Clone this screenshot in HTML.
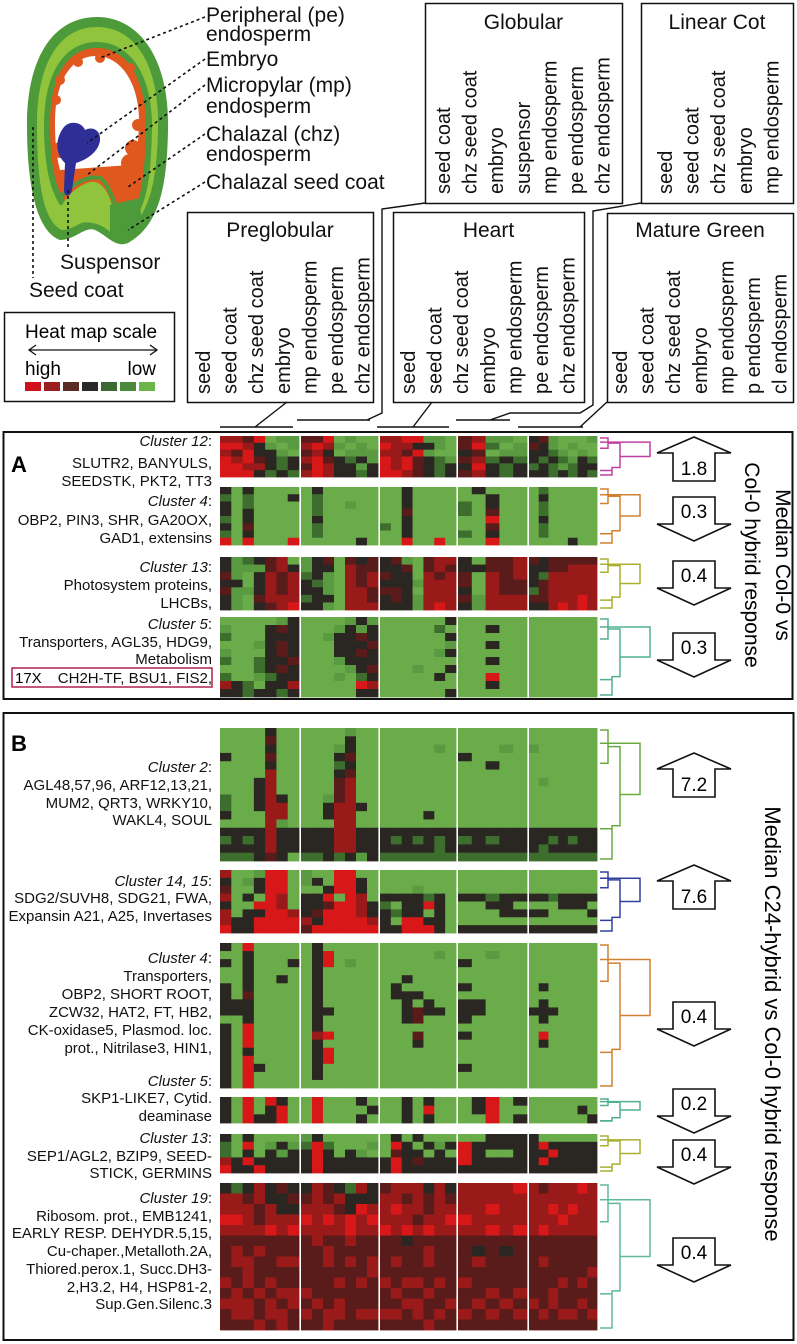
<!DOCTYPE html>
<html><head><meta charset="utf-8"><style>
html,body{margin:0;padding:0;background:#fff;}
svg{display:block;font-family:"Liberation Sans",Arial,sans-serif;}
</style></head><body>
<svg id="fig" width="797" height="1344" viewBox="0 0 797 1344" xmlns="http://www.w3.org/2000/svg">
<!-- Seed diagram -->
<g>
  <path d="M97,17 C140,17 170,60 168,130 C167,185 160,225 128,243 C115,248 108,236 95,230 C85,226 75,240 60,240 C38,232 27,190 27,125 C27,55 55,17 97,17 Z" fill="#4c9a3a"/>
  <path d="M97,27 C135,27 160,65 158,130 C157,180 150,215 125,233 C112,238 106,225 95,221 C84,218 74,230 62,230 C44,222 37,185 37,125 C37,62 60,27 97,27 Z" fill="#8fc43c"/>
  <path d="M97,42 C130,42 153,75 152,130 C151,170 148,195 140,210 L60,205 C50,190 44,165 44,125 C44,72 65,42 97,42 Z" fill="#4c9a3a"/>
  <path d="M97,48 C126,48 147,78 146,130 C145,168 142,193 136,205 L64,200 C55,185 50,162 50,125 C50,75 68,48 97,48 Z" fill="#e0581e"/>
  <path d="M96,56 C120,56 140,82 139,125 C138,148 136,160 130,165 L60,170 C56,155 55,140 55,122 C55,80 72,56 96,56 Z" fill="#fff"/>
  <circle cx="100" cy="58" r="5" fill="#e0581e"/><circle cx="78" cy="62" r="5" fill="#e0581e"/><circle cx="60" cy="80" r="5" fill="#e0581e"/><circle cx="130" cy="68" r="5" fill="#e0581e"/>
  <circle cx="56" cy="100" r="5" fill="#e0581e"/><circle cx="138" cy="125" r="6" fill="#e0581e"/><circle cx="133" cy="148" r="8" fill="#e0581e"/><circle cx="130" cy="163" r="9" fill="#e0581e"/><circle cx="60" cy="150" r="8" fill="#e0581e"/>
  <path d="M62,205 C70,192 80,185 90,182 C100,180 108,190 112,205 C114,218 118,220 125,215 L130,205 L138,210 L140,230 C130,240 118,240 110,232 C100,222 85,220 70,225 Z" fill="#8fc43c"/>
  <path d="M60,198 C72,183 90,175 100,178 C108,182 112,200 118,208" fill="none" stroke="#4c9a3a" stroke-width="4"/>
  <path d="M110,205 L140,198 L142,232 C132,242 118,242 110,235 Z" fill="#4c9a3a"/>
  <path d="M64,127 C70,120 82,122 85,130 C92,126 101,130 100,140 C99,152 86,160 76,163 L72,190 C70,198 64,197 64,190 L65,163 C56,155 54,140 64,127 Z" fill="#2e2e96"/>
  <g fill="none" stroke="#111" stroke-width="1.6" stroke-dasharray="3,3">
    <line x1="205" y1="17" x2="100" y2="58"/>
    <line x1="205" y1="59" x2="87" y2="143"/>
    <line x1="205" y1="85" x2="87" y2="175"/>
    <line x1="205" y1="134" x2="128" y2="187"/>
    <line x1="205" y1="182" x2="128" y2="230"/>
    <line x1="68" y1="190" x2="68" y2="250"/>
    <line x1="33" y1="127" x2="33" y2="278"/>
  </g>
  <g font-size="21" fill="#111">
    <text x="206" y="22">Peripheral (pe)</text>
    <text x="206" y="41">endosperm</text>
    <text x="206" y="66">Embryo</text>
    <text x="206" y="92">Micropylar (mp)</text>
    <text x="206" y="113">endosperm</text>
    <text x="206" y="141">Chalazal (chz)</text>
    <text x="206" y="161">endosperm</text>
    <text x="206" y="189">Chalazal seed coat</text>
    <text x="60" y="269">Suspensor</text>
    <text x="29" y="297">Seed coat</text>
  </g>
</g>
<!-- Heat map scale legend -->
<g>
  <rect x="4.5" y="312.5" width="170" height="89" fill="none" stroke="#111" stroke-width="1.5"/>
  <text x="25" y="338" font-size="19">Heat map scale</text>
  <line x1="30" y1="350" x2="156" y2="350" stroke="#111" stroke-width="1.3"/>
  <path d="M36,345 L29,350 L36,355 M150,345 L157,350 L150,355" fill="none" stroke="#111" stroke-width="1.3"/>
  <text x="25" y="375" font-size="19">high</text>
  <text x="156" y="375" font-size="19" text-anchor="end">low</text>
  <rect x="25" y="382" width="16" height="9" fill="#d0101a"/><rect x="44" y="382" width="16" height="9" fill="#9a1e1e"/><rect x="63" y="382" width="16" height="9" fill="#5a2a24"/><rect x="82" y="382" width="16" height="9" fill="#2a2a2a"/><rect x="101" y="382" width="16" height="9" fill="#3a6a30"/><rect x="120" y="382" width="16" height="9" fill="#4a8a3a"/><rect x="139" y="382" width="16" height="9" fill="#6cb54a"/>
</g>
<g id="stageBoxes" font-size="20" fill="#111"></g>
<g id="connectors" fill="none" stroke="#111" stroke-width="1.4"></g>
<!-- Panels -->
<rect x="3.5" y="432" width="789" height="267" fill="none" stroke="#111" stroke-width="2"/>
<rect x="3.5" y="713" width="790" height="627" fill="none" stroke="#111" stroke-width="2"/>
<text x="11" y="472" font-size="22" font-weight="bold">A</text>
<text x="11" y="751" font-size="22" font-weight="bold">B</text>
<g id="heat"></g>
<g id="dendro" fill="none" stroke-width="1.5"></g>
<g id="labels" font-size="15" fill="#111" text-anchor="end"></g>
<g id="arrows"></g>
<rect x="12" y="668" width="200" height="19" fill="none" stroke="#b0204a" stroke-width="1.5"/>
<text x="15" y="683" font-size="15">17X</text>
<text transform="translate(776,565) rotate(90)" font-size="21" text-anchor="middle">Median Col-0 vs</text>
<text transform="translate(745,565) rotate(90)" font-size="21" text-anchor="middle">Col-0 hybrid response</text>
<text transform="translate(765,1024) rotate(90)" font-size="22" text-anchor="middle">Median C24-hybrid vs Col-0 hybrid response</text>
</svg>
<script>
// ---- data ----
const stageNames = ["Preglobular","Globular","Heart","Linear Cot","Mature Green"];
const preglobularCols = ["seed","seed coat","chz seed coat","embryo","mp endosperm","pe endosperm","chz endosperm"];
const globularCols = ["seed coat","chz seed coat","embryo","suspensor","mp endosperm","pe endosperm","chz endosperm"];
const heartCols = ["seed","seed coat","chz seed coat","embryo","mp endosperm","pe endosperm","chz endosperm"];
const linearCotCols = ["seed","seed coat","chz seed coat","embryo","mp endosperm"];
const matureGreenCols = ["seed","seed coat","chz seed coat","embryo","mp endosperm","p endosperm","cl endosperm"];
const levelColors = ["#d81818","#9a1a1a","#5a1c1a","#2a2622","#3d6e2e","#5a9a40","#6aab4a"];
const responseValues = ["1.8","0.3","0.4","0.3","7.2","7.6","0.4","0.2","0.4","0.4"];
const responseDirections = ["up","down","down","down","up","up","down","down","down","down"];
const a12Rows = ["1120655|2206566|1100556|21556|3256665","0013565|1015656|0113356|20465|2356566","1203356|2136555|1120566|32655|3345656","0102343|1023435|0102345|21434|3434534","0011343|2013353|0102343|30343|4345433","0003434|1013343|0012343|21343|3343434"];
const a4Rows = ["3636666|6366666|6636666|63666|6466666","4646663|6466666|6636666|66366|6366666","3646666|6466566|6636666|46366|6466666","3636666|6466666|6626666|46266|6466666","4636666|6366666|6636666|66066|6366666","3626666|6466666|4636666|66266|6466666","4636666|6466666|6636666|46366|6466666","0606660|6666636|6606606|66066|6666366"];
const a13Rows = ["3543216|5326232|3256211|36221|2322222","3555213|5336122|3326212|33221|3322111","2563121|4356121|2336121|26121|3411111","3363121|3456121|3335111|26122|3211111","2553121|3356112|2236111|36122|4211111","3562111|4336112|3235111|25111|2211101","3563210|3356111|3335101|35111|3310101"];
const a5Rows = ["6666653|6666535|6666663|66666|6666666","5666323|6665353|6666646|66366|6666666","4666333|6653323|6666663|66666|6666666","6665323|6663332|6666665|66366|6666666","5666323|6663323|6666653|66666|6666666","4664332|6665333|6666666|66366|6666666","6664323|6666532|6665663|66666|6666666","4665433|6665643|6666636|66066|6666666","1346331|6666601|6666666|66366|6666666","3343343|6666633|6666663|66666|6666666"];
const b2Rows = ["6666366|6666566|6666666|66666|6666666","6666266|6666366|6666666|66666|6666666","6666366|6665366|6666656|66656|5666666","3666266|6663266|6666666|36666|6666666","6666366|6664366|6666666|66366|6666666","6666166|6663266|6666666|66666|6666666","6663166|6662166|6666666|66666|6566666","6663166|6662166|6666666|66666|6666666","4663136|6652166|6666666|66666|6666666","4663116|6631136|6666666|66666|6666666","3666116|6631166|6666366|66666|6666666","6666156|6661166|6666666|66666|6666666","3333133|3331133|3333333|33333|3333333","4343133|3331133|3434343|43433|3343433","3333133|3331133|3333343|33333|3433333","4443236|4434353|4444444|44444|4444444"];
const b14Rows = ["1665006|5660066|6666666|66666|6666666","3653006|5360036|6666666|66666|6666666","2663006|6630036|6665666|66666|6666666","1636016|3306016|3333436|33433|3343333","3660016|3320013|4633036|66336|6663336","1633001|3200013|3433636|66633|3366663","1330000|1300001|3600336|66666|6666666","0330000|2000000|3300036|33333|3333333"];
const b4Rows = ["3606666|6366666|6666666|66666|6666666","6636666|6306666|6666656|66566|6666666","3636663|6306566|6666666|36666|6666666","6636666|6366666|6666666|66666|6666666","6636636|6366666|6636666|66666|6666666","3636666|6366666|6366666|36666|6366666","3626666|6366666|6333666|66666|6666666","3336666|6366666|6636366|33666|6366666","3336666|6336666|6632336|33666|3336666","6636666|6366666|6632666|36666|6366666","3606666|6366666|6666666|66666|6666666","3606666|6106666|6662666|36666|6066666","3606666|6366666|6663666|66666|6366666","3636666|6306666|6666666|66666|6666666","3606666|6306666|6666666|66666|6666666","3603666|6366666|6666666|36666|6666666","3606666|6366666|6666666|66666|6666666","3606666|6666666|6666666|66666|6666666"];
const b5Rows = ["3606036|6066636|6636366|63063|6666666","3606306|6066663|6636066|63066|6666636","3603306|6066636|6636366|66063|6666663"];
const b13Rows = ["3636666|5366666|6363666|66333|3666666","4606535|4046665|6036353|03333|3033333","4636353|3036356|6233636|03663|3303333","1303333|3033333|3032333|03333|3033333","0330333|3033333|3033333|33333|3333333"];
const b19Rows = ["3431323|3123413|2111313|11110|1211101","1121332|2121333|1121212|11111|1111111","1112133|1112301|1011211|11011|1101011","0012111|0101010|1112110|01111|1110111","1111010|1111011|0101011|11010|1011111","2222222|2122122|2232222|22222|2222222","2121222|2212222|2222122|23232|2222222","2112211|2212121|2122122|21222|2122222","2212222|2222221|2222222|22222|2222221","1212122|2221212|1211212|12222|2221212","2121211|1222222|2122122|22121|2212222","1112121|2121222|2211221|21212|1212212","2112112|1211211|1121212|12121|2121121","2221212|2212222|2222122|22222|2222222"];

// ---- layout ----
const NS="http://www.w3.org/2000/svg";
function mk(tag,attrs,parent){const e=document.createElementNS(NS,tag);for(const k in attrs)e.setAttribute(k,attrs[k]);parent.appendChild(e);return e;}
const groupX=[220,301,380,458,529], groupW=[79,77,76,69,68];
const stageCols=[preglobularCols,globularCols,heartCols,linearCotCols,matureGreenCols];
const clusters=[
 {rows:a12Rows,top:436,bot:477,name:"cluster-12-a",col:"#c040a0",arrowY:437},
 {rows:a4Rows,top:487,bot:545,name:"cluster-4-a",col:"#d08030",arrowY:497},
 {rows:a13Rows,top:557,bot:610,name:"cluster-13-a",col:"#a8b030",arrowY:561},
 {rows:a5Rows,top:617,bot:697,name:"cluster-5-a",col:"#50b090",arrowY:633},
 {rows:b2Rows,top:728,bot:861,name:"cluster-2-b",col:"#6aaa40",arrowY:753},
 {rows:b14Rows,top:870,bot:933,name:"cluster-14-15-b",col:"#3040a0",arrowY:865},
 {rows:b4Rows,top:943,bot:1088,name:"cluster-4-b",col:"#d08030",arrowY:1002},
 {rows:b5Rows,top:1097,bot:1123,name:"cluster-5-b",col:"#50b090",arrowY:1089},
 {rows:b13Rows,top:1134,bot:1173,name:"cluster-13-b",col:"#a8b030",arrowY:1140},
 {rows:b19Rows,top:1183,bot:1330,name:"cluster-19-b",col:"#60b898",arrowY:1238}
];
const heat=document.getElementById('heat');
clusters.forEach((c,ci)=>{
  const g=mk('g',{},heat);
  
  
  const rh=(c.bot-c.top)/c.rows.length;
  c.rows.forEach((r,ri)=>{
    r.split('|').forEach((seg,gi)=>{
      const cw=groupW[gi]/seg.length;
      for(let k=0;k<seg.length;k++){
        const cell=mk('rect',{x:(groupX[gi]+k*cw).toFixed(2),y:(c.top+ri*rh).toFixed(2),width:(cw+0.4).toFixed(2),height:(rh+0.4).toFixed(2),fill:levelColors[+seg[k]]},g);
        
        
      }
    });
  });
  const d=document.getElementById('dendro');
  const dg=mk('g',{stroke:c.col},d);
  
  
  const h=c.bot-c.top, y0=c.top+2, y1=c.bot-2, ym=(y0+y1)/2;
  const a=y0+h*0.25, b=y0+h*0.72;
  mk('path',{d:`M600,${y0} H608 V${a} H600 M608,${(y0+a)/2} H620 V${b} H612 V${y1} H600 M612,${b+3} H600 M620,${ym} H${ci%3===0?650:640} V${y0+h*0.1} H600`},dg);
});
const sb=document.getElementById('stageBoxes');
const boxes=[
 {x:187,y:212,w:186,h:190,ty:237,bx:203,by:394},
 {x:425,y:3,w:197,h:200,ty:29,bx:443,by:194},
 {x:393,y:212,w:191,h:190,ty:237,bx:408,by:394},
 {x:641,y:3,w:152,h:200,ty:29,bx:665,by:194},
 {x:607,y:213,w:186,h:189,ty:237,bx:620,by:394}
];
boxes.forEach((b,i)=>{
  const g=mk('g',{},sb);
  
  
  mk('rect',{x:b.x+0.5,y:b.y+0.5,width:b.w,height:b.h,fill:'#fff',stroke:'#111','stroke-width':1.5},g);
  const t=mk('text',{x:b.x+b.w/2,y:b.ty,'text-anchor':'middle','font-size':21},g);t.textContent=stageNames[i];
  stageCols[i].forEach((n,k)=>{
    const tt=mk('text',{transform:`translate(${b.bx+k*26.6+7},${b.by}) rotate(-90)`},g);
    
    
    tt.textContent=n;
  });
});
const cn=document.getElementById('connectors');
["M220,427 H293 M255,427 L287,402",
 "M297,420 H370 M367,420 L382,413 V209 L425,203",
 "M377,427 H449 M413,427 L432,402",
 "M456,420 H510 M490,420 L510,413 H580 L593,405 V211 L641,203",
 "M518,427 H583 M580,427 L607,402"].forEach(p=>mk('path',{d:p},cn));
const ar=document.getElementById('arrows');
clusters.forEach((c,i)=>{
  const cx=694, up=responseDirections[i]==='up', y=c.arrowY;
  const g=mk('g',{},ar);
  
  
  let pts;
  if(up) pts=`${cx},${y} ${cx+37},${y+16} ${cx+21},${y+16} ${cx+21},${y+44} ${cx-21},${y+44} ${cx-21},${y+16} ${cx-37},${y+16}`;
  else pts=`${cx-21},${y} ${cx+21},${y} ${cx+21},${y+27} ${cx+37},${y+27} ${cx},${y+44} ${cx-37},${y+27} ${cx-21},${y+27}`;
  mk('polygon',{points:pts,fill:'#fff',stroke:'#111','stroke-width':1.6},g);
  const t=mk('text',{x:cx,y:up?y+38:y+21,'text-anchor':'middle','font-size':19},g);
  t.textContent=responseValues[i];
});
const lab=document.getElementById('labels');
const lines=[
 [441,"Cluster 12",1],[463,"SLUTR2, BANYULS,"],[481,"SEEDSTK, PKT2, TT3"],
 [501,"Cluster 4",1],[520,"OBP2, PIN3, SHR, GA20OX,"],[538,"GAD1, extensins"],
 [567,"Cluster 13",1],[585,"Photosystem proteins,"],[603,"LHCBs,"],
 [624,"Cluster 5",1],[642,"Transporters, AGL35, HDG9,"],[659,"Metabolism"],[678,"CH2H-TF, BSU1, FIS2,"],
 [767,"Cluster 2",1],[785,"AGL48,57,96, ARF12,13,21,"],[803,"MUM2, QRT3, WRKY10,"],[820,"WAKL4, SOUL"],
 [881,"Cluster 14, 15",1],[898,"SDG2/SUVH8, SDG21, FWA,"],[916,"Expansin A21, A25, Invertases"],
 [958,"Cluster 4",1],[976,"Transporters,"],[994,"OBP2, SHORT ROOT,"],[1012,"ZCW32, HAT2, FT, HB2,"],[1030,"CK-oxidase5, Plasmod. loc."],[1048,"prot., Nitrilase3, HIN1,"],
 [1081,"Cluster 5",1],[1098,"SKP1-LIKE7, Cytid."],[1116,"deaminase"],
 [1138,"Cluster 13",1],[1156,"SEP1/AGL2, BZIP9, SEED-"],[1173,"STICK, GERMINS"],
 [1198,"Cluster 19",1],[1216,"Ribosom. prot., EMB1241,"],[1233,"EARLY RESP. DEHYDR.5,15,"],[1251,"Cu-chaper.,Metalloth.2A,"],[1269,"Thiored.perox.1, Succ.DH3-"],[1287,"2,H3.2, H4, HSP81-2,"],[1304,"Sup.Gen.Silenc.3"]
];
lines.forEach(l=>{
  const t=mk('text',{x:212,y:l[0]+5},lab);
  
  
  if(l[2]){const s=mk('tspan',{'font-style':'italic'},t);s.textContent=l[1];const s2=mk('tspan',{},t);s2.textContent=':';}
  else t.textContent=l[1];
});
</script>
</body></html>
